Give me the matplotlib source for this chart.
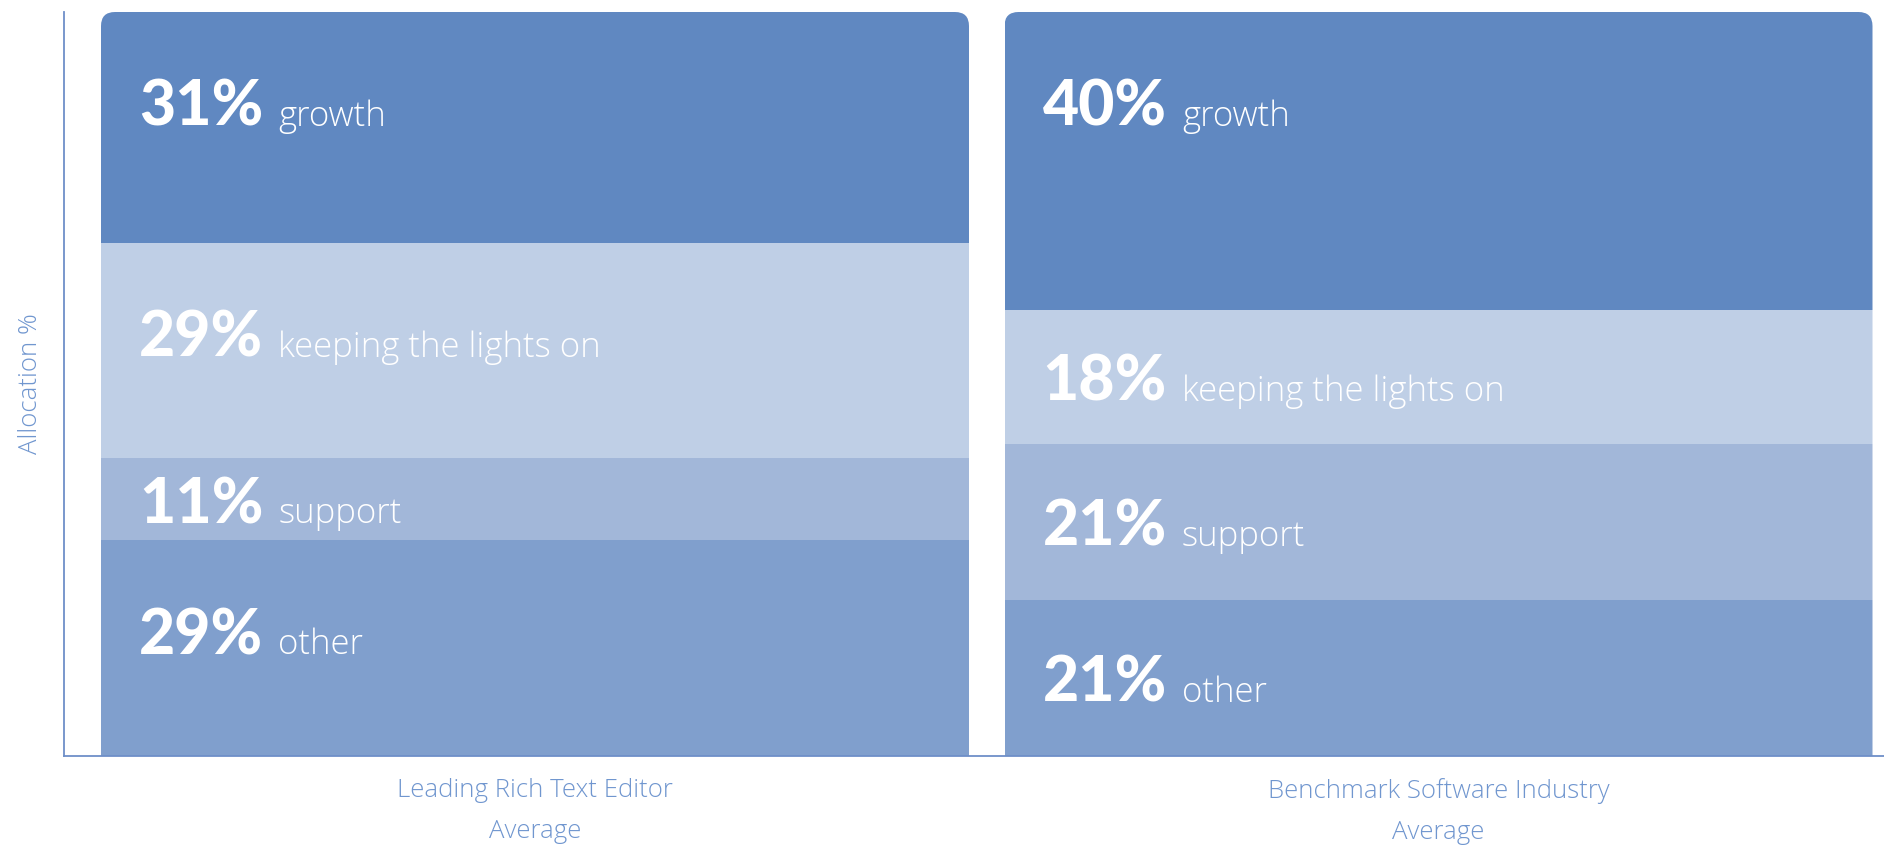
import matplotlib
matplotlib.use("Agg")
import matplotlib.pyplot as plt
from matplotlib.patches import FancyBboxPatch

# Budget allocation per group (percent)
groups = ["Leading Rich Text Editor\nAverage", "Benchmark Software Industry\nAverage"]
categories = ["other", "support", "keeping the lights on", "growth"]
editor_values = [29, 11, 29, 31]
industry_values = [21, 21, 18, 40]

colors = {
    "growth": "#6088C1",
    "keeping the lights on": "#BFCFE6",
    "support": "#A2B7D9",
    "other": "#809FCD",
}
axis_color = "#6E8FC8"
text_color = "#7096CF"
label_font = "Open Sans"

W, H, DPI = 1884, 848, 100
fig = plt.figure(figsize=(W / DPI, H / DPI), dpi=DPI)
ax = fig.add_axes([64 / W, 92 / H, 1820 / W, 744 / H])

bar_w = 868 / 903.5
xs = [0, 1]
ax.set_xlim(-471 / 903.5, 1 + 445.5 / 903.5)
ax.set_ylim(0, 100)

px_x = 903.5          # pixels per x unit
px_y = 744 / 100      # pixels per y unit
radius = 14

for x, vals in zip(xs, [editor_values, industry_values]):
    total = sum(vals)
    # rounded top corners only: clip box extends below the axis
    clip = FancyBboxPatch((x - bar_w / 2, -5), bar_w, total + 5,
                          boxstyle=f"round,pad=0,rounding_size={radius / px_x}",
                          mutation_aspect=px_x / px_y,
                          transform=ax.transData, facecolor="none", edgecolor="none")
    ax.add_patch(clip)
    bottom = 0
    for cat, v in zip(categories, vals):
        bars = ax.bar(x, v, width=bar_w, bottom=bottom, color=colors[cat],
                      linewidth=0, zorder=2)
        for b in bars:
            b.set_clip_path(clip)
        top = bottom + v
        # baseline of the text inside the segment
        base = top - min(114 / px_y, v / 2 + 24 / px_y)
        num = ax.text(x - bar_w / 2 + 38 / px_x, base, f"{v}%", color="white",
                      fontsize=45, fontfamily="Lato", fontweight="black",
                      va="baseline", ha="left", zorder=3)
        ax.annotate(cat, xy=(1, base), xycoords=(num, "data"),
                    xytext=(11, 0), textcoords="offset points",
                    color="white", fontsize=25, fontfamily=label_font,
                    fontweight="light", va="baseline", ha="left", zorder=3)
        bottom = top

ax.set_xticks(xs)
ax.set_xticklabels(groups, fontsize=18.5, fontfamily=label_font, fontweight="light",
                   color=text_color, linespacing=1.85)
ax.tick_params(axis="x", length=0, pad=16)
ax.set_yticks([])
ax.set_ylabel("Allocation %", fontsize=18.5, fontfamily=label_font, fontweight="light",
              color=text_color, labelpad=15)

for side in ["top", "right"]:
    ax.spines[side].set_visible(False)
for side in ["left", "bottom"]:
    ax.spines[side].set_color(axis_color)
    ax.spines[side].set_linewidth(1.3)

fig.savefig("out.png", dpi=DPI, facecolor="white")
